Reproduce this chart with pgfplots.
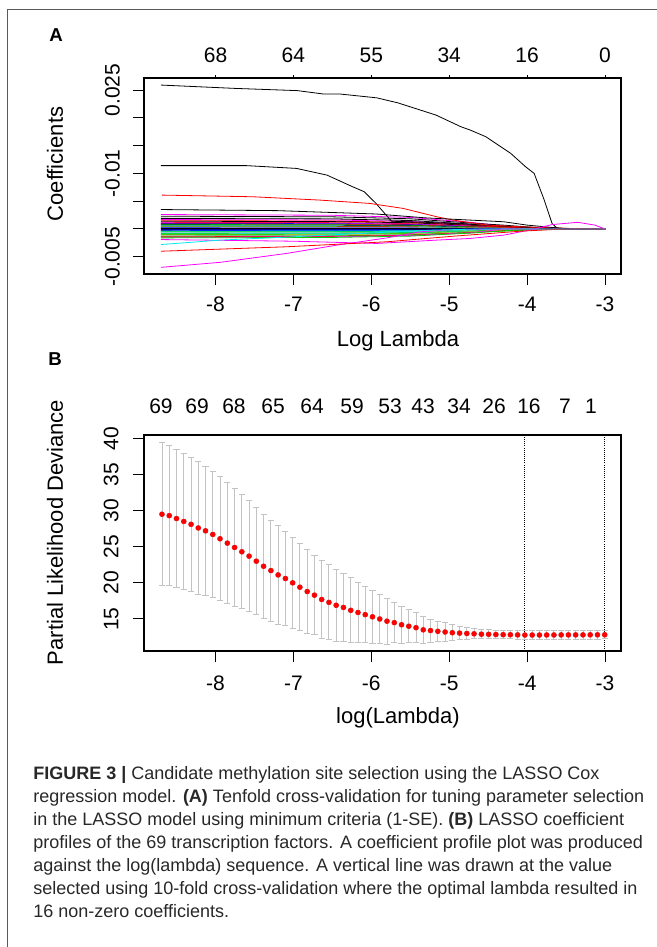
\documentclass[border=0pt]{standalone}
\usepackage{pgfplots}
\pgfplotsset{compat=1.18}
\usepackage{pgfplotstable}
\usepackage{fontspec}
\setmainfont{Liberation Sans}
\definecolor{rgreen}{RGB}{0,205,0}
\definecolor{rgray}{RGB}{190,190,190}
\definecolor{rcyan}{RGB}{0,235,235}
\definecolor{rmag}{RGB}{255,0,255}
\definecolor{ryellow}{RGB}{200,190,0}
\definecolor{rblue}{RGB}{0,0,255}
\definecolor{rred}{RGB}{255,0,0}
\definecolor{ebar}{RGB}{195,195,195}
\definecolor{framec}{RGB}{90,90,90}
\definecolor{captc}{RGB}{40,40,40}

% coefficient paths (values x 1000)
\pgfplotstableread{
x b1 b2 b3 b4 b5 b6 b7 b8 b9 b10 b11 b12 b13 b14 b15 b16 b17 b18 b19 b20 b21 b22 b23 b24 b25 b26 b27 b28 b29 b30 b31 b32 b33 b34 b35
-8.70 2.6 2.3 2.0 1.9 1.7 1.5 1.4 1.2 1.1 1.0 0.9 0.8 0.7 0.6 0.5 0.4 0.3 0.2 0.1 -0.1 -0.2 -0.3 -0.4 -0.5 -0.6 -0.7 -0.8 -0.9 -1.0 -1.1 -1.2 -1.3 -1.4 -1.5 -1.6
-6.5 2.47 2.19 1.90 1.81 1.62 1.43 1.33 1.14 1.05 0.95 0.86 0.76 0.67 0.57 0.48 0.38 0.29 0.19 0.10 -0.10 -0.19 -0.29 -0.38 -0.48 -0.57 -0.67 -0.76 -0.86 -0.95 -1.05 -1.14 -1.24 -1.33 -1.43 -1.52
-5.5 2.08 1.84 1.60 1.52 1.36 1.20 1.12 0.96 0.88 0.80 0.72 0.64 0.56 0.48 0.40 0.32 0.24 0.16 0.08 -0.08 -0.16 -0.24 -0.32 -0.40 -0.48 -0.56 -0.64 -0.72 -0.80 -0.88 -0.96 -1.04 -1.12 -1.20 -1.28
-4.7 1.17 1.04 0.90 0.86 0.77 0.68 0.63 0.54 0.50 0.45 0.41 0.36 0.32 0.27 0.23 0.18 0.14 0.09 0.05 -0.05 -0.09 -0.14 -0.18 -0.23 -0.27 -0.32 -0.36 -0.41 -0.45 -0.50 -0.54 -0.59 -0.63 -0.68 -0.72
-4.3 0.52 0.69 0.40 0 0.34 0.45 0.28 0.36 0 0.20 0.27 0.16 0 0.12 0.15 0 0.06 0.04 0 -0.02 -0.06 0 -0.08 -0.10 0 -0.14 -0.24 -0.18 0 -0.22 -0.24 -0.39 -0.28 0 -0.32
-3.9 0 0.28 0 0 0 0.18 0 0.14 0 0 0.11 0 0 0 0.06 0 0 0 0 0 -0.02 0 0 0 0 0 -0.10 0 0 0 0 -0.16 0 0 0
-3.5 0 0 0 0 0 0 0 0 0 0 0 0 0 0 0 0 0 0 0 0 0 0 0 0 0 0 0 0 0 0 0 0 0 0 0
-3.0 0 0 0 0 0 0 0 0 0 0 0 0 0 0 0 0 0 0 0 0 0 0 0 0 0 0 0 0 0 0 0 0 0 0 0
}\bundle

% cross-validation curve: log lambda, mean deviance, SE
\pgfplotstableread{
x m e
-8.687 29.5 9.9
-8.594 29.3 9.7
-8.501 28.9 9.6
-8.407 28.5 9.4
-8.314 28.1 9.3
-8.221 27.6 9.2
-8.128 27.2 8.9
-8.035 26.7 8.7
-7.942 26.1 8.6
-7.848 25.5 8.4
-7.755 24.9 8.1
-7.662 24.3 7.9
-7.569 23.7 7.7
-7.476 23.0 7.4
-7.383 22.3 7.2
-7.289 21.7 7.0
-7.196 21.1 6.8
-7.103 20.6 6.5
-7.010 20.0 6.3
-6.917 19.4 6.0
-6.823 18.8 5.8
-6.730 18.3 5.5
-6.637 17.7 5.4
-6.544 17.3 5.2
-6.451 16.9 5.0
-6.358 16.6 4.7
-6.264 16.2 4.5
-6.171 15.9 4.2
-6.078 15.6 3.9
-5.985 15.3 3.7
-5.892 15.0 3.4
-5.799 14.7 3.2
-5.705 14.5 2.8
-5.612 14.2 2.6
-5.519 14.0 2.3
-5.426 13.8 2.1
-5.333 13.5 1.9
-5.240 13.4 1.6
-5.146 13.3 1.4
-5.053 13.2 1.26
-4.960 13.1 1.1
-4.867 13.05 0.95
-4.774 13.0 0.8
-4.681 12.95 0.7
-4.587 12.9 0.65
-4.494 12.88 0.62
-4.401 12.85 0.6
-4.308 12.83 0.59
-4.215 12.82 0.58
-4.122 12.8 0.58
-4.029 12.78 0.58
-3.935 12.78 0.58
-3.842 12.78 0.58
-3.749 12.79 0.58
-3.656 12.79 0.58
-3.563 12.8 0.58
-3.470 12.8 0.58
-3.377 12.8 0.58
-3.283 12.8 0.58
-3.190 12.81 0.58
-3.097 12.81 0.58
-3.004 12.82 0.58
}\cvdata

\newcommand{\tickfont}{\fontsize{15.75pt}{18pt}\selectfont}
\newcommand{\labfont}{\fontsize{16.5pt}{19pt}\selectfont}
\newcommand{\capfont}{\fontsize{13.5pt}{17pt}\selectfont}

\pgfplotsset{rstyle/.style={scale only axis, width=357.75pt,
  xmin=-8.918, xmax=-2.795,
  axis line style={line width=0.9pt},
  tick style={black, line width=0.75pt},
  tick align=outside,
  ticklabel style={font=\tickfont, inner sep=0pt},
  xtick pos=left, ytick pos=left,
  major tick length=8.25pt,
  xtick={-8,-7,-6,-5,-4,-3}, xticklabels={-8,-7,-6,-5,-4,-3},
  xticklabel style={anchor=base},
  yticklabel style={rotate=90, anchor=base},
}}

\begin{document}
\begin{tikzpicture}
\useasboundingbox (0,0) rectangle (492.75pt,-710.25pt);
\draw[framec, line width=0.75pt] (5.25pt,-710.25pt) -- (5.25pt,-6.75pt) -- (492.75pt,-6.75pt);

% ---------------- Panel A ----------------
\begin{axis}[rstyle, at={(108pt,-205.5pt)}, anchor=south west, height=147pt,
  ymin=-8.1, ymax=27.17,
  ytick={-5,0,5,10,15,20,25}, yticklabels={-0.005,,,-0.01,,,0.025},
  xticklabel shift=20pt, yticklabel shift=10.1pt]
\foreach \i/\c in {1/rmag,2/black,3/rgray,4/black,5/rmag,6/rred,7/black,8/rred,9/rmag,10/rblue,11/rred,12/rgreen,13/black,14/rcyan,15/rred,16/rgreen,17/rgray,18/rblue,19/black,20/rblue,21/black,22/rblue,23/rcyan,24/rgreen,25/rcyan,26/rgray,27/rgreen,28/rcyan,29/rgreen,30/ryellow,31/rgray,32/rgreen,33/rred,34/rmag,35/rgreen}{
  \edef\tmp{\noexpand\addplot[color=\c, line width=0.6pt, mark=none] table[x=x,y=b\i]{\noexpand\bundle};}\tmp
}
\addplot[black, line width=0.6pt] coordinates {(-8.70,25.9)(-7.75,25.3)(-6.95,24.9)(-6.62,24.3)(-6.41,24.3)(-5.93,23.6)(-5.66,22.7)(-5.17,20.5)(-4.85,18.4)(-4.73,17.8)(-4.53,16.6)(-4.21,13.6)(-4.02,11.2)(-3.91,10.0)(-3.78,5.2)(-3.68,1.0)(-3.62,0.2)(-3.55,0)(-3.0,0)};
\addplot[black, line width=0.6pt] coordinates {(-8.70,11.4)(-7.60,11.4)(-6.96,10.9)(-6.57,9.7)(-6.24,7.6)(-6.09,6.7)(-5.94,4.6)(-5.81,2.5)(-5.74,1.4)(-5.3,1.2)(-4.8,0.9)(-4.3,0.5)(-3.9,0.2)(-3.6,0)(-3.0,0)};
\addplot[rred, line width=0.6pt] coordinates {(-8.69,6.1)(-7.52,5.8)(-6.66,5.2)(-6.02,4.6)(-5.59,3.7)(-5.16,2.2)(-4.95,1.6)(-4.51,0.7)(-4.09,0.4)(-3.45,0.1)(-3.23,0)(-3.0,0)};
\addplot[black, line width=0.6pt] coordinates {(-8.70,3.5)(-7.2,3.3)(-5.94,2.7)(-5.3,2.0)(-4.73,1.6)(-4.3,1.3)(-4.0,0.7)(-3.7,0.3)(-3.4,0)(-3.0,0)};
\addplot[rmag, line width=0.6pt] coordinates {(-8.70,-1.9)(-7.0,-2.2)(-5.93,-2.6)(-5.16,-2.0)(-4.73,-1.7)(-4.30,-1.1)(-3.97,-0.2)(-3.68,0.8)(-3.35,1.2)(-3.13,0.7)(-3.0,0)};
\addplot[rmag, line width=0.6pt] coordinates {(-8.70,-6.9)(-7.94,-6.0)(-7.09,-4.4)(-6.44,-2.9)(-5.80,-1.6)(-5.37,-0.5)(-4.95,-0.1)(-4.5,0)(-3.0,0)};
\addplot[rred, line width=0.6pt] coordinates {(-8.70,-4.0)(-7.09,-3.2)(-5.80,-2.3)(-4.95,-1.3)(-4.09,-0.4)(-3.67,-0.1)(-3.4,0)(-3.0,0)};
\addplot[rcyan, line width=0.6pt] coordinates {(-8.70,-2.8)(-7.94,-2.0)(-7.0,-1.4)(-6.0,-0.7)(-5.2,-0.2)(-4.6,0)(-3.0,0)};
\end{axis}
\begin{axis}[scale only axis, width=357.75pt, height=147pt, at={(108pt,-205.5pt)}, anchor=south west,
  xmin=-8.918, xmax=-2.795, ymin=0, ymax=1,
  axis x line*=top, axis y line=none, axis line style={line width=0.9pt},
  tick style={black, line width=0.75pt}, tick align=outside, major tick length=1.9pt,
  xtick={-8,-7,-6,-5,-4,-3}, xticklabels={68,64,55,34,16,0},
  xticklabel style={font=\tickfont, inner sep=0pt, anchor=base}, xticklabel shift=9.9pt]
\end{axis}

% ---------------- Panel B ----------------
\begin{axis}[rstyle, at={(108pt,-488.25pt)}, anchor=south west, height=162pt,
  ymin=10.57, ymax=40.46,
  ytick={15,20,25,30,35,40}, yticklabels={15,20,25,30,35,40},
  xticklabel shift=21pt, yticklabel shift=10.9pt]
\addplot[ebar, only marks, mark=none,
  error bars/.cd, y dir=both, y explicit, error mark=none,
  error bar style={ebar, line width=0.7pt}]
  table[x=x, y=m, y error=e]{\cvdata};
\addplot[ebar, only marks, mark=-, mark size=2.3pt, mark options={ebar, line width=0.7pt}]
  table[x=x, y expr=\thisrow{m}+\thisrow{e}]{\cvdata};
\addplot[ebar, only marks, mark=-, mark size=2.3pt, mark options={ebar, line width=0.7pt}]
  table[x=x, y expr=\thisrow{m}-\thisrow{e}]{\cvdata};
\addplot[only marks, mark=*, mark size=1.8pt, mark options={draw=rred, fill=rred}] table[x=x, y=m]{\cvdata};
\addplot[black, densely dotted, line width=0.6pt] coordinates {(-4.029,10.57)(-4.029,40.46)};
\addplot[black, densely dotted, line width=0.6pt] coordinates {(-3.004,10.57)(-3.004,40.46)};
\end{axis}
\begin{axis}[scale only axis, width=357.75pt, height=162pt, at={(108pt,-488.25pt)}, anchor=south west,
  xmin=-8.918, xmax=-2.795, ymin=0, ymax=1,
  axis x line*=top, axis y line=none, axis line style={line width=0.9pt},
  major tick length=0pt, tick style={draw=none},
  xtick={-8.700,-8.237,-7.763,-7.262,-6.761,-6.248,-5.760,-5.336,-4.874,-4.425,-3.976,-3.514,-3.180},
  xticklabels={69,69,68,65,64,59,53,43,34,26,16,7,1},
  xticklabel style={font=\tickfont, inner sep=0pt, anchor=base}, xticklabel shift=16.3pt]
\end{axis}

% ---------------- text ----------------
\begin{scope}[x=0.75pt, y=-0.75pt]
\node[font=\fontsize{14pt}{16pt}\selectfont\bfseries] at (56,35) {A};
\node[font=\fontsize{14pt}{16pt}\selectfont\bfseries] at (55,359.5) {B};
\node[font=\labfont, rotate=90] at (55,164) {Coefficients};
\node[font=\labfont, rotate=90] at (55,532.5) {Partial Likelihood Deviance};
\node[font=\labfont, anchor=base] at (398,346) {Log Lambda};
\node[font=\labfont, anchor=base] at (398,723) {log(Lambda)};
\begin{scope}[every node/.style={anchor=base west, inner sep=0pt, font=\capfont, text=captc}]
\node at (33,779) {\textbf{FIGURE 3 |} Candidate methylation site selection using the LASSO Cox};
\node at (33,802) {regression model. \textbf{(A)} Tenfold cross-validation for tuning parameter selection};
\node at (33,825) {in the LASSO model using minimum criteria (1-SE). \textbf{(B)} LASSO coefficient};
\node at (33,848) {profiles of the 69 transcription factors. A coefficient profile plot was produced};
\node at (33,871) {against the log(lambda) sequence. A vertical line was drawn at the value};
\node at (33,894) {selected using 10-fold cross-validation where the optimal lambda resulted in};
\node at (33,917) {16 non-zero coefficients.};
\end{scope}
\end{scope}
\end{tikzpicture}
\end{document}
